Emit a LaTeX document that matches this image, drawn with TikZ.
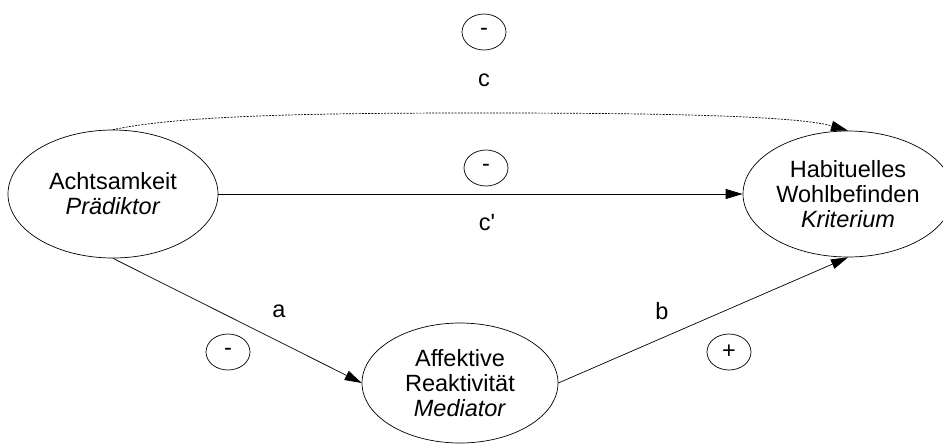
\documentclass[tikz,border=0pt]{standalone}
\usepackage{fontspec}
\setmainfont{Liberation Sans}
\usetikzlibrary{shapes.geometric,arrows.meta}
\begin{document}
\begin{tikzpicture}[x=1pt,y=-1pt,
  every node/.style={font=\fontsize{23.5}{25}\selectfont},
  bigell/.style={draw, ellipse, inner sep=0pt, align=center, line width=0.7pt},
  signell/.style={draw, ellipse, inner sep=0pt, minimum width=44pt, minimum height=36pt, line width=0.7pt},
  conn/.style={line width=0.7pt, -{Triangle[length=17pt,width=10pt]}},
  dotconn/.style={line width=0.7pt, dash pattern=on 2pt off 1.2pt, -{Triangle[length=17pt,width=10pt]}},
  lbl/.style={inner sep=0pt}]
\useasboundingbox (0,0) rectangle (943,445);
\node[bigell, minimum width=210pt, minimum height=128pt] (A) at (113,194) {Achtsamkeit\\\textit{Prädiktor}};
\node[bigell, minimum width=210pt, minimum height=126pt] (H) at (848,194) {Habituelles\\Wohlbefinden\\\textit{Kriterium}};
\node[bigell, minimum width=196pt, minimum height=120pt] (M) at (460,383) {Affektive\\Reaktivität\\\textit{Mediator}};
\node[signell] (s1) at (484,32) {-};
\node[signell] (s2) at (486,168) {-};
\node[signell] (s3) at (228,352) {-};
\node[signell] (s4) at (729,352) {+};
\node[lbl] (lc) at (484,80) {c};
\node[lbl] (lcp) at (487,223) {c\textquotesingle};
\node[lbl] (la) at (279,311) {a};
\node[lbl] (lb) at (662,311) {b};
\coordinate (cm) at (480,113);
\draw[conn] (A.east) -- (H.west);
\draw[conn] (A.south) -- (M.west);
\draw[conn] (M.east) -- (H.south);
\draw[dotconn] (A.north) .. controls +(70,-15) and +(-150,0) .. (cm) .. controls +(150,0) and +(-55,-16) .. (H.north);
\end{tikzpicture}
\end{document}
